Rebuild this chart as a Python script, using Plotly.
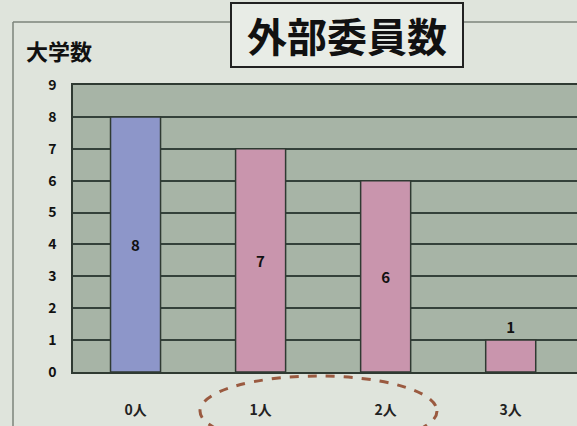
import plotly.graph_objects as go

categories = ["0人", "1人", "2人", "3人"]
values = [8, 7, 6, 1]
bar_colors = ["#8d96c9", "#c995ad", "#c995ad", "#c995ad"]
text_positions = ["inside", "inside", "inside", "outside"]
y_ticks = list(range(0, 10))

title_text = "外部委員数"
y_label = "大学数"

W, H = 577, 426
ML, MR, MT, MB = 73, 0, 85, 54
pw = W - ML - MR
ph = H - MT - MB

def px(x):
    return (x - ML) / pw

def py(y):
    return (H - MB - y) / ph

font = "Noto Sans CJK JP, Noto Sans, sans-serif"

fig = go.Figure()
fig.add_trace(go.Bar(
    x=categories,
    y=values,
    width=0.4,
    marker=dict(color=bar_colors, line=dict(color="#2f3a32", width=1.5)),
    text=[str(v) for v in values],
    textposition=text_positions,
    insidetextanchor="middle",
    textfont=dict(family=font, size=15, color="#111111", weight="bold"),
    cliponaxis=False,
))

fig.update_layout(
    width=W, height=H,
    margin=dict(l=ML, r=MR, t=MT, b=MB, autoexpand=False),
    paper_bgcolor="#dfe4dc",
    plot_bgcolor="#a7b4a6",
    showlegend=False,
    font=dict(family=font, color="#111111"),
    bargap=0.6,
)
fig.update_xaxes(
    range=[-0.5, 3.53],
    showgrid=False,
    showline=True, linecolor="#2f3a32", linewidth=1.5, mirror=True,
    tickfont=dict(family=font, size=14, color="#222222", weight="bold"),
    ticks="", ticklabelstandoff=24, automargin=False,
)
fig.update_yaxes(
    range=[0, 9],
    tickvals=y_ticks,
    showgrid=True, gridcolor="#34413a", gridwidth=1.5,
    showline=True, linecolor="#2f3a32", linewidth=1.5, mirror=True,
    zeroline=False,
    tickfont=dict(family=font, size=14, color="#111111", weight="bold"),
    ticks="", ticklabelstandoff=12, automargin=False,
)

# outer chart frame
line_style = dict(color="#7d847b", width=1.5)
fig.add_shape(type="line", xref="paper", yref="paper",
              x0=px(13), x1=px(13), y0=py(22), y1=py(430), line=line_style)
fig.add_shape(type="line", xref="paper", yref="paper",
              x0=px(13), x1=px(232), y0=py(22), y1=py(22), line=line_style)
fig.add_shape(type="line", xref="paper", yref="paper",
              x0=px(462), x1=px(580), y0=py(22), y1=py(22), line=line_style)

# title box
fig.add_annotation(
    xref="paper", yref="paper",
    x=px(347), y=py(35), text=f"<b>{title_text}</b>", showarrow=False,
    font=dict(family=font, size=40, color="#111111"),
    bordercolor="#222222", borderwidth=2, borderpad=4,
    bgcolor="#e8ece6", width=222, height=54,
    xanchor="center", yanchor="middle",
)

# y axis label
fig.add_annotation(
    xref="paper", yref="paper",
    x=px(24), y=py(50), text=y_label, showarrow=False,
    font=dict(family=font, size=22, color="#111111", weight="bold"),
    xanchor="left", yanchor="middle",
)

# dashed ellipse highlighting 1人 and 2人
fig.add_shape(type="circle", xref="paper", yref="paper",
              x0=px(200), x1=px(437), y0=py(446), y1=py(376),
              line=dict(color="#9a5a40", width=3, dash="dash"))

fig.write_html(
    "out.html",
    config={"displayModeBar": False},
    post_script="document.body.style.margin='0';document.body.style.overflow='hidden';",
)
